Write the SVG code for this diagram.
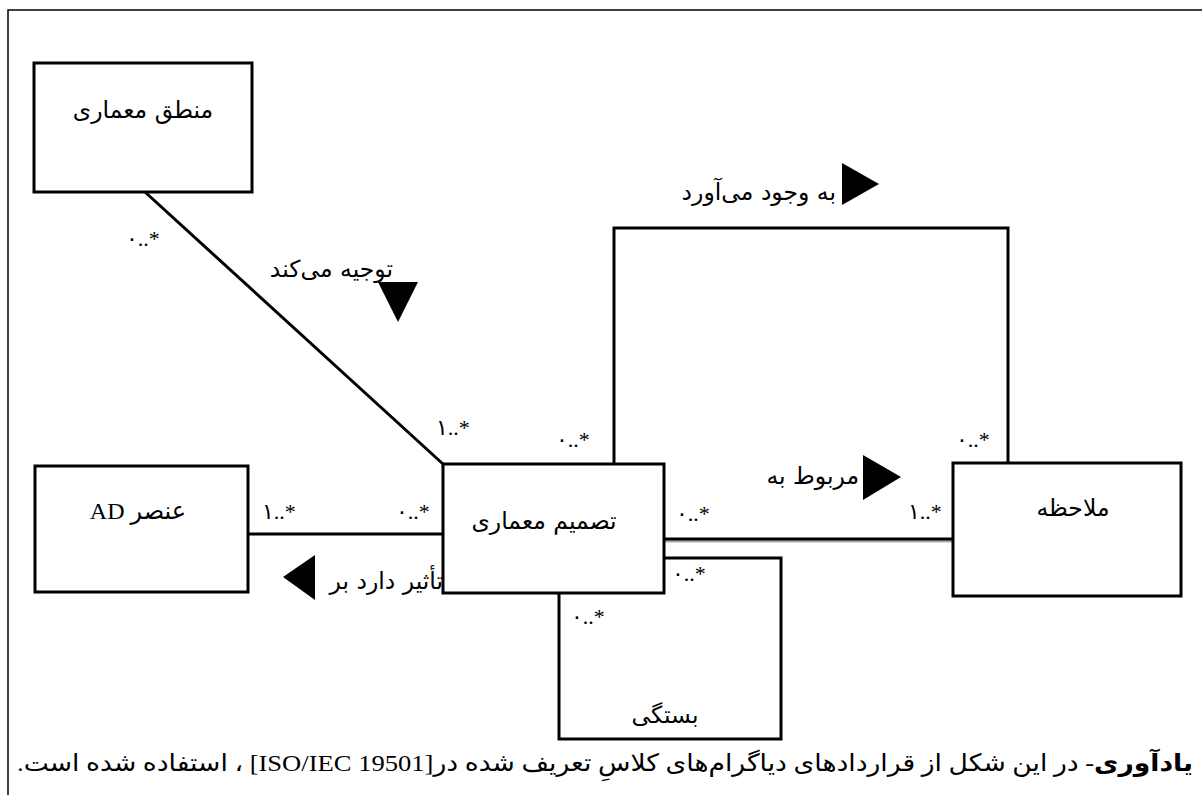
<svg xmlns="http://www.w3.org/2000/svg" width="1202" height="795" viewBox="0 0 1202 795">
<style>
.box{fill:#fff;stroke:#000;stroke-width:3}
.lbl{font-family:"Liberation Serif","DejaVu Sans",serif;font-size:24px;fill:#000}
.fa{font-family:"DejaVu Sans","Noto Sans",sans-serif;font-size:23.5px;fill:#000}
.mult{font-family:"Liberation Serif","DejaVu Sans",serif;font-size:22px;fill:#000}
.ln{fill:none;stroke:#000;stroke-width:3}
.tri{fill:#000}
</style>
<rect width="1202" height="795" fill="#fff"/>
<path d="M8,795 V10 H1202" fill="none" stroke="#000" stroke-width="1.5"/>
<g id="connectors">
<line class="ln" x1="145" y1="192" x2="443" y2="464"/>
<line class="ln" x1="248" y1="534" x2="443" y2="534"/>
<line x1="664" y1="541" x2="953" y2="541" stroke="#aaa" stroke-width="3"/>
<line class="ln" x1="664" y1="539" x2="953" y2="539"/>
<polyline class="ln" points="614,464 614,228 1008,228 1008,463"/>
<polyline class="ln" points="664,558 781,558 781,739 559,739 559,593"/>
<polygon class="tri" points="378,282 418,282 398,322"/>
<polygon class="tri" points="842,163 842,205 879,184"/>
<polygon class="tri" points="863,455 863,500 901,477"/>
<polygon class="tri" points="315,555 315,600 283,577"/>
<text class="fa" x="393" y="277" direction="rtl" text-anchor="start">توجیه می‌کند</text>
<text class="fa" x="836" y="200" direction="rtl" text-anchor="start">به وجود می‌آورد</text>
<text class="fa" x="859" y="484" direction="rtl" text-anchor="start">مربوط به</text>
<text class="fa" x="443" y="589" direction="rtl" text-anchor="start">تأثیر دارد بر</text>
<g class="mult">
<text x="126" y="246">۰..*</text>
<text x="436" y="435">۱..*</text>
<text x="556" y="447">۰..*</text>
<text x="956" y="447">۰..*</text>
<text x="262" y="519">۱..*</text>
<text x="396" y="519">۰..*</text>
<text x="676" y="521">۰..*</text>
<text x="908" y="519">۱..*</text>
<text x="672" y="581">۰..*</text>
<text x="571" y="624">۰..*</text>
</g>
</g>
<g id="mantegh">
<rect class="box" x="34" y="63" width="218" height="129"/>
<text class="fa" x="143" y="118" text-anchor="middle">منطق معماری</text>
</g>
<g id="adElement">
<rect class="box" x="35" y="466" width="213" height="126"/>
<text class="lbl" x="138" y="519" text-anchor="middle" direction="rtl">عنصر AD</text>
</g>
<g id="decision">
<rect class="box" x="443" y="464" width="221" height="129"/>
<text class="fa" x="544" y="529" text-anchor="middle">تصمیم معماری</text>
</g>
<g id="molahezeh">
<rect class="box" x="953" y="463" width="228" height="133"/>
<text class="fa" x="1073" y="516" text-anchor="middle">ملاحظه</text>
</g>
<g id="bastegi">
<text class="fa" x="665" y="723" text-anchor="middle">بستگی</text>
</g>
<text class="lbl" x="1193" y="771" direction="rtl" text-anchor="start" textLength="1176" lengthAdjust="spacingAndGlyphs"><tspan font-weight="bold">یادآوری</tspan>- در این شکل از قراردادهای دیاگرام‌های کلاسِ تعریف شده در[ISO/IEC 19501] ، استفاده شده است.</text>
</svg>
